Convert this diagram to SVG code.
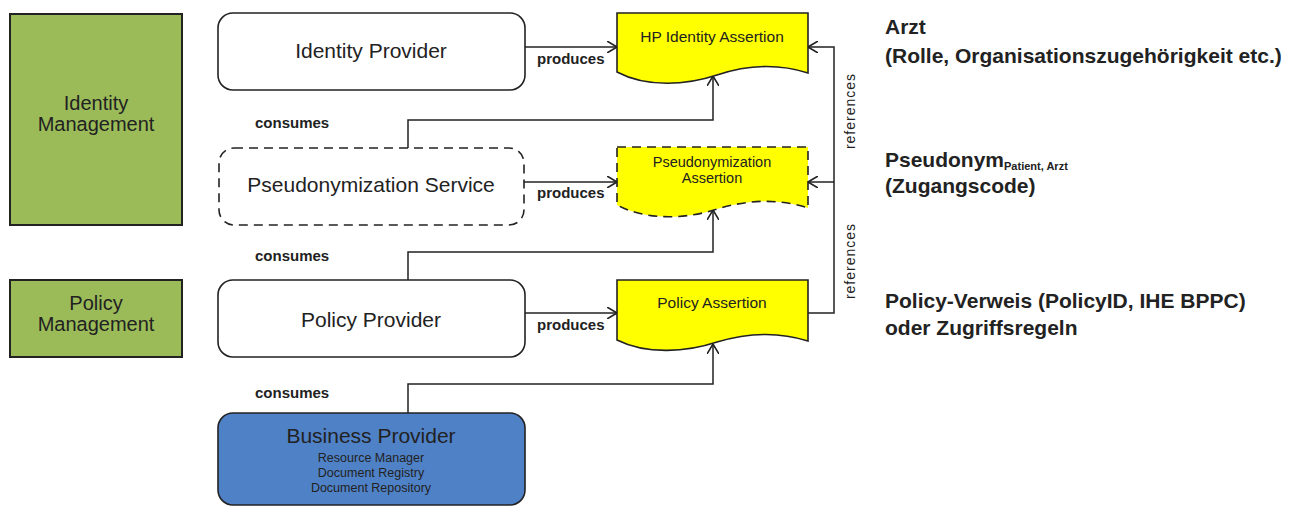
<svg xmlns="http://www.w3.org/2000/svg" width="1303" height="507" viewBox="0 0 1303 507">
  <defs>
    <style>
      text { font-family: "Liberation Sans", Arial, sans-serif; fill: #222; }
      .mgmt { fill: #9bbb59; stroke: #222; stroke-width: 2; }
      .svc { fill: #fff; stroke: #222; stroke-width: 1.6; }
      .dashed { stroke-dasharray: 9 6; }
      .biz { fill: #4f81c6; stroke: #222; stroke-width: 1.6; }
      .doc { fill: #ffff00; stroke: #222; stroke-width: 1.6; }
      .lbl21 { font-size: 21px; text-anchor: middle; }
      .lbl20 { font-size: 20px; text-anchor: middle; }
      .lbl16 { font-size: 15.5px; text-anchor: middle; }
      .lbl15 { font-size: 14.5px; text-anchor: middle; }
      .small { font-size: 12.5px; text-anchor: middle; }
      .edge { font-size: 15px; font-weight: bold; }
      .ref { font-size: 14px; letter-spacing: 1px; text-anchor: middle; }
      .note { font-size: 21px; font-weight: bold; }
      .sub { font-size: 11px; font-weight: bold; }
      .conn { fill: none; stroke: #222; stroke-width: 1.5; }
    </style>
    <marker id="open" viewBox="0 0 10 12" refX="10" refY="6" markerWidth="10" markerHeight="12" markerUnits="userSpaceOnUse" orient="auto">
      <path d="M0,0 L10,6 L0,12" fill="none" stroke="#222" stroke-width="1.6"/>
    </marker>
  </defs>

  <!-- management areas -->
  <g id="identity-management">
    <rect class="mgmt" x="10" y="14" width="172" height="211"/>
    <text class="lbl20" x="96" y="110">Identity</text>
    <text class="lbl20" x="96" y="131">Management</text>
  </g>
  <g id="policy-management">
    <rect class="mgmt" x="10" y="280" width="172" height="77"/>
    <text class="lbl20" x="96" y="310">Policy</text>
    <text class="lbl20" x="96" y="331">Management</text>
  </g>

  <!-- services -->
  <g id="identity-provider">
    <rect class="svc" x="218" y="13" width="307" height="77" rx="15"/>
    <text class="lbl21" x="371" y="58">Identity Provider</text>
  </g>
  <g id="pseudonymization-service">
    <rect class="svc dashed" x="219" y="148" width="305" height="77" rx="15"/>
    <text class="lbl21" x="371" y="192">Pseudonymization Service</text>
  </g>
  <g id="policy-provider">
    <rect class="svc" x="218" y="280" width="307" height="77" rx="15"/>
    <text class="lbl21" x="371" y="327">Policy Provider</text>
  </g>
  <g id="business-provider">
    <rect class="biz" x="218" y="413" width="307" height="92" rx="15"/>
    <text class="lbl21" x="371" y="443">Business Provider</text>
    <text class="small" x="371" y="462">Resource Manager</text>
    <text class="small" x="371" y="477">Document Registry</text>
    <text class="small" x="371" y="492">Document Repository</text>
  </g>

  <!-- assertions (document shapes) -->
  <g id="hp-identity-assertion">
    <path class="doc" transform="translate(617,13)" d="M0,0 H191 V60 C160,50 130,52 100,62 C70,72 30,75 0,59 Z"/>
    <text class="lbl16" x="712" y="42">HP Identity Assertion</text>
  </g>
  <g id="pseudonymization-assertion">
    <path class="doc dashed" transform="translate(617,147)" d="M0,0 H191 V61 C160,51 130,53 100,62 C70,72 30,74 0,58 Z"/>
    <text class="lbl15" x="712" y="167">Pseudonymization</text>
    <text class="lbl15" x="712" y="183">Assertion</text>
  </g>
  <g id="policy-assertion">
    <path class="doc" transform="translate(617,280)" d="M0,0 H191 V61 C160,51 130,53 100,62 C70,72 30,75 0,60 Z"/>
    <text class="lbl16" x="712" y="308">Policy Assertion</text>
  </g>

  <!-- connectors -->
  <g id="connectors">
    <path class="conn" d="M525,47 H617" marker-end="url(#open)"/>
    <path class="conn" d="M524,182 H617" marker-end="url(#open)"/>
    <path class="conn" d="M525,313 H617" marker-end="url(#open)"/>
    <path class="conn" d="M408,148 V120 H713 V76" marker-end="url(#open)"/>
    <path class="conn" d="M408,280 V252 H713 V210" marker-end="url(#open)"/>
    <path class="conn" d="M408,413 V384 H713 V344" marker-end="url(#open)"/>
    <path class="conn" d="M808,313 H834 V47 H808" marker-end="url(#open)"/>
    <path class="conn" d="M834,182 H808" marker-end="url(#open)"/>

    <text class="edge" x="537" y="64">produces</text>
    <text class="edge" x="537" y="198">produces</text>
    <text class="edge" x="537" y="330">produces</text>
    <text class="edge" x="255" y="128">consumes</text>
    <text class="edge" x="255" y="261">consumes</text>
    <text class="edge" x="255" y="398">consumes</text>
    <text class="ref" transform="translate(855,111) rotate(-90)">references</text>
    <text class="ref" transform="translate(855,261) rotate(-90)">references</text>
  </g>

  <!-- annotations -->
  <g id="notes">
    <text class="note" x="885" y="34">Arzt</text>
    <text class="note" x="885" y="63">(Rolle, Organisationszugehörigkeit etc.)</text>
    <text class="note" x="885" y="167">Pseudonym<tspan class="sub" dy="3">Patient, Arzt</tspan></text>
    <text class="note" x="885" y="193">(Zugangscode)</text>
    <text class="note" x="885" y="308">Policy-Verweis (PolicyID, IHE BPPC)</text>
    <text class="note" x="885" y="335">oder Zugriffsregeln</text>
  </g>
</svg>
